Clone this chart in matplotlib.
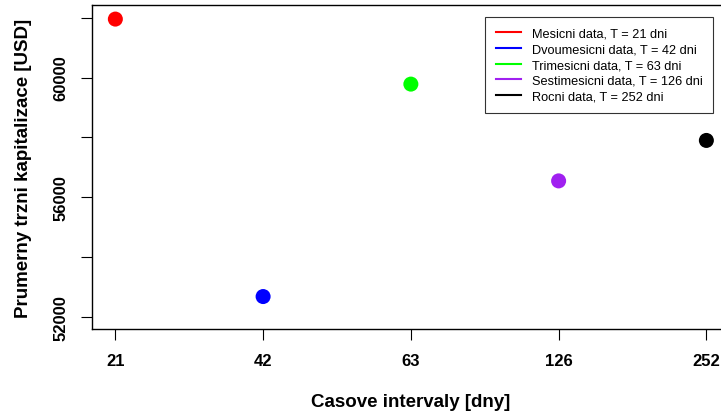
import matplotlib.pyplot as plt

# prumerna trzni kapitalizace podle delky casoveho intervalu
intervaly = ["21", "42", "63", "126", "252"]
kapitalizace = [61950, 52690, 59780, 56550, 57900]
barvy = ["#FF0000", "#0000FF", "#00FF00", "#A020F0", "#000000"]
popisky = [
    "Mesicni data, T = 21 dni",
    "Dvoumesicni data, T = 42 dni",
    "Trimesicni data, T = 63 dni",
    "Sestimesicni data, T = 126 dni",
    "Rocni data, T = 252 dni",
]
y_ticky = [52000, 54000, 56000, 58000, 60000, 62000]
y_popisky = ["52000", "", "56000", "", "60000", ""]

plt.rcParams["font.family"] = ["Liberation Sans", "DejaVu Sans"]

fig = plt.figure(figsize=(7.21, 4.14), dpi=100)
ax = fig.add_axes([0.1272, 0.2029, 0.8853, 0.7826])

pozice = list(range(1, len(intervaly) + 1))
ax.scatter(pozice, kapitalizace, c=barvy, s=117, edgecolors="none", zorder=3)

ax.set_xlim(0.84, 5.16)
ax.set_ylim(51607, 62420)

ax.set_xticks(pozice)
ax.set_xticklabels(intervaly, fontsize=12, fontweight="bold")
ax.set_yticks(y_ticky)
ax.set_yticklabels(y_popisky, fontsize=12, fontweight="bold", rotation=90, va="center")
ax.tick_params(direction="out", length=8, width=0.8, pad=9)

for s in ax.spines.values():
    s.set_linewidth(1.0)

ax.set_xlabel("Casove intervaly [dny]", fontsize=13.5, fontweight="bold", labelpad=18)
ax.set_ylabel("Prumerny trzni kapitalizace [USD]", fontsize=13.5, fontweight="bold", labelpad=15)

# legenda jako v R: cary misto bodu
cary = [plt.Line2D([0], [0], color=b, lw=1.5) for b in barvy]
leg = fig.legend(cary, popisky, loc="upper left", bbox_to_anchor=(0.6727, 0.9565),
                 fontsize=9.2, frameon=True, fancybox=False, edgecolor="black",
                 handlelength=1.95, handletextpad=0.86, labelspacing=0.28,
                 borderpad=0.85, borderaxespad=0)
leg.get_frame().set_linewidth(0.8)

fig.savefig("out.png", dpi=100)
